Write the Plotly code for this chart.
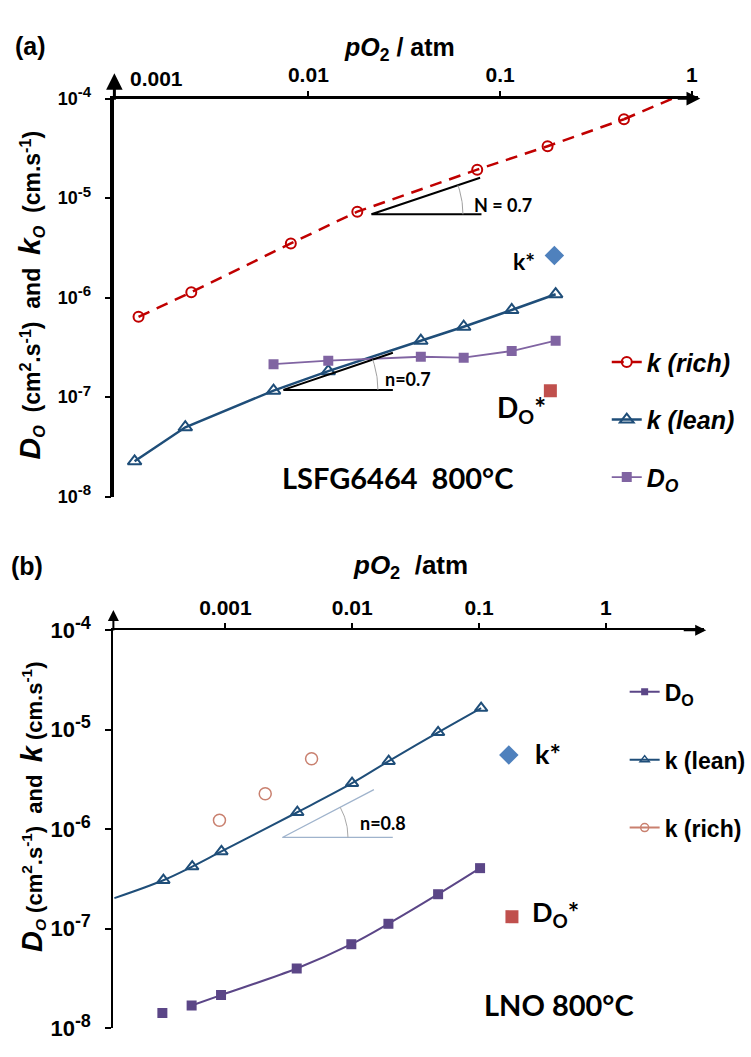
import numpy as np
import plotly.graph_objects as go

W, H = 751, 1057

# ---------------- Panel (a): LSFG6464 800°C ----------------
a_rich_po2 = [0.0013, 0.00245, 0.0081, 0.018, 0.076, 0.177, 0.443]
a_rich_k = [6.4e-7, 1.13e-6, 3.5e-6, 7.3e-6, 1.93e-5, 3.32e-5, 6.2e-5]
a_rich_fit_po2 = [0.443, 1.0]
a_rich_fit_k = [6.2e-5, 1.21e-4]
a_lean_po2 = [0.00124, 0.00228, 0.00658, 0.0127, 0.0386, 0.0646, 0.115, 0.195]
a_lean_k = [2.26e-8, 4.97e-8, 1.16e-7, 1.82e-7, 3.68e-7, 5.09e-7, 7.5e-7, 1.08e-6]
a_do_po2 = [0.00658, 0.0127, 0.0386, 0.0646, 0.115, 0.195]
a_do = [2.14e-7, 2.32e-7, 2.54e-7, 2.49e-7, 2.90e-7, 3.68e-7]
a_kstar_po2 = [0.192]
a_kstar = [2.65e-6]
a_dostar_po2 = [0.183]
a_dostar = [1.16e-7]
# slope guides (tip of hypotenuse, vertex, end of base)
a_N_tri_po2 = [0.0787, 0.02133, 0.0800]
a_N_tri_val = [1.60e-5, 6.87e-6, 6.87e-6]
a_n_tri_po2 = [0.0276, 0.00741, 0.0276]
a_n_tri_val = [2.79e-7, 1.18e-7, 1.18e-7]

# ---------------- Panel (b): LNO 800°C ----------------
b_do_po2 = [3.18e-4, 5.41e-4, 9.23e-4, 3.65e-3, 9.84e-3, 0.0193, 0.0476, 0.102]
b_do = [1.42e-8, 1.69e-8, 2.15e-8, 3.98e-8, 6.98e-8, 1.12e-7, 2.22e-7, 4.06e-7]
b_lean_po2 = [3.24e-4, 5.47e-4, 9.3e-4, 3.69e-3, 9.97e-3, 0.0194, 0.0476, 0.104]
b_lean_k = [3.07e-7, 4.21e-7, 5.98e-7, 1.48e-6, 2.9e-6, 4.83e-6, 9.4e-6, 1.65e-5]
b_lean_fit_start_po2 = [1.33e-4]
b_lean_fit_start_k = [2.03e-7]
b_rich_po2 = [8.97e-4, 2.06e-3, 4.78e-3]
b_rich_k = [1.23e-6, 2.27e-6, 5.1e-6]
b_kstar_po2 = [0.172]
b_kstar = [5.57e-6]
b_dostar_po2 = [0.182]
b_dostar = [1.32e-7]
b_n_tri_po2 = [0.01483, 0.00281, 0.0209]
b_n_tri_val = [2.50e-6, 8.26e-7, 8.26e-7]

# ticks
a_xtick_vals = [0.01, 0.1, 1]
a_xtick_text = ["0.01", "0.1", "1"]
a_first_xtick = "0.001"
b_xtick_vals = [0.001, 0.01, 0.1, 1]
b_xtick_text = ["0.001", "0.01", "0.1", "1"]
ytick_vals = [1e-8, 1e-7, 1e-6, 1e-5, 1e-4]
ytick_exp = ["-8", "-7", "-6", "-5", "-4"]

# colours
RED = "#C00000"
NAVY = "#1F4E79"
PURPLE = "#8064A2"
DPURPLE = "#5B4687"
KSTAR = "#4F81BD"
DSTAR = "#C0504D"
LRED = "#C9806F"

ARIAL = "Liberation Sans, Arial, sans-serif"
CAL = "Lato, Carlito, sans-serif"

# layout geometry (pixels)
A_X0, A_X1, A_Y0, A_Y1 = 115, 702, 83, 493
B_X0, B_X1, B_Y0, B_Y1 = 114, 708, 630.7, 1040.7
A_XR = [-3.012, 0.034]
B_XR = [-3.884, 0.777]
YR = [-8, -4]


def px(x):
    return x / W


def py(y):
    return 1 - y / H


def arc(tri_x, tri_y, r_px, ppdx, ppdy):
    lx = np.log10(tri_x)
    ly = np.log10(tri_y)
    ang = np.arctan2((ly[0] - ly[1]) * ppdy, (lx[0] - lx[1]) * ppdx)
    t = np.linspace(0, ang, 24)
    return 10 ** (lx[1] + r_px * np.cos(t) / ppdx), 10 ** (ly[1] + r_px * np.sin(t) / ppdy)


def ylabels(sup_px):
    return ["10<sup><span style='font-size:%dpx'>%s</span></sup>" % (sup_px, e) for e in ytick_exp]


fig = go.Figure()

# ---------- panel (a) traces ----------
fig.add_trace(go.Scatter(x=a_rich_fit_po2, y=a_rich_fit_k, mode="lines", xaxis="x", yaxis="y",
                         line=dict(color=RED, width=2.5, dash="12px,8px"), showlegend=False, hoverinfo="skip"))
fig.add_trace(go.Scatter(x=a_rich_po2, y=a_rich_k, mode="lines+markers", xaxis="x", yaxis="y",
                         line=dict(color=RED, width=2.5, dash="12px,8px"),
                         marker=dict(symbol="circle-open", size=10, color=RED, line=dict(width=2)),
                         name="<i>k (rich)</i>", legend="legend", legendgroup="a1"))
fig.add_trace(go.Scatter(x=a_lean_po2, y=a_lean_k, mode="lines+markers", xaxis="x", yaxis="y",
                         line=dict(color=NAVY, width=2.5),
                         marker=dict(symbol="triangle-up-open", size=12, color=NAVY, line=dict(width=2)),
                         name="<i>k (lean)</i>", legend="legend", legendgroup="a2"))
fig.add_trace(go.Scatter(x=a_do_po2, y=a_do, mode="lines+markers", xaxis="x", yaxis="y",
                         line=dict(color=PURPLE, width=1.8),
                         marker=dict(symbol="square", size=10, color=PURPLE),
                         name="<i>D</i><sub><i>O</i></sub>", legend="legend", legendgroup="a3"))
fig.add_trace(go.Scatter(x=a_kstar_po2, y=a_kstar, mode="markers", xaxis="x", yaxis="y",
                         marker=dict(symbol="diamond", size=15, color=KSTAR), showlegend=False))
fig.add_trace(go.Scatter(x=a_dostar_po2, y=a_dostar, mode="markers", xaxis="x", yaxis="y",
                         marker=dict(symbol="square", size=13, color=DSTAR), showlegend=False))

# slope guides (a)
ppdx_a = (A_X1 - A_X0) / (A_XR[1] - A_XR[0])
ppdy_a = (A_Y1 - A_Y0) / (YR[1] - YR[0])
ppdx_b = (B_X1 - B_X0) / (B_XR[1] - B_XR[0])
ppdy_b = (B_Y1 - B_Y0) / (YR[1] - YR[0])
for tx, ty, r in [(a_N_tri_po2, a_N_tri_val, 92), (a_n_tri_po2, a_n_tri_val, 95)]:
    fig.add_trace(go.Scatter(x=tx, y=ty, mode="lines", xaxis="x", yaxis="y",
                             line=dict(color="black", width=2), showlegend=False, hoverinfo="skip"))
    ax_, ay_ = arc(tx, ty, r, ppdx_a, ppdy_a)
    fig.add_trace(go.Scatter(x=ax_, y=ay_, mode="lines", xaxis="x", yaxis="y",
                             line=dict(color="#A0A0A0", width=1), showlegend=False, hoverinfo="skip"))

# ---------- panel (b) traces ----------
fig.add_trace(go.Scatter(x=b_n_tri_po2, y=b_n_tri_val, mode="lines", xaxis="x2", yaxis="y2",
                         line=dict(color="#9FB3CC", width=1.3), showlegend=False, hoverinfo="skip"))
bax, bay = arc(b_n_tri_po2, b_n_tri_val, 66, ppdx_b, ppdy_b)
fig.add_trace(go.Scatter(x=bax, y=bay, mode="lines", xaxis="x2", yaxis="y2",
                         line=dict(color="#A8A8A8", width=1), showlegend=False, hoverinfo="skip"))

fig.add_trace(go.Scatter(x=b_lean_fit_start_po2 + b_lean_po2, y=b_lean_fit_start_k + b_lean_k, mode="lines",
                         xaxis="x2", yaxis="y2", line=dict(color=NAVY, width=2, shape="spline"),
                         showlegend=False, hoverinfo="skip"))
fig.add_trace(go.Scatter(x=b_do_po2[1:], y=b_do[1:], mode="lines", xaxis="x2", yaxis="y2",
                         line=dict(color=DPURPLE, width=2, shape="spline"), showlegend=False, hoverinfo="skip"))
fig.add_trace(go.Scatter(x=b_do_po2, y=b_do, mode="markers", xaxis="x2", yaxis="y2",
                         marker=dict(symbol="square", size=10, color=DPURPLE), showlegend=False))
fig.add_trace(go.Scatter(x=b_lean_po2, y=b_lean_k, mode="markers", xaxis="x2", yaxis="y2",
                         marker=dict(symbol="triangle-up-open", size=11, color=NAVY, line=dict(width=2)),
                         showlegend=False))
fig.add_trace(go.Scatter(x=b_rich_po2, y=b_rich_k, mode="markers", xaxis="x2", yaxis="y2",
                         marker=dict(symbol="circle-open", size=12, color=LRED, line=dict(width=1.5)),
                         showlegend=False))
fig.add_trace(go.Scatter(x=b_kstar_po2, y=b_kstar, mode="markers", xaxis="x2", yaxis="y2",
                         marker=dict(symbol="diamond", size=15, color=KSTAR), showlegend=False))
fig.add_trace(go.Scatter(x=b_dostar_po2, y=b_dostar, mode="markers", xaxis="x2", yaxis="y2",
                         marker=dict(symbol="square", size=13, color=DSTAR), showlegend=False))
# legend-only entries (b)
fig.add_trace(go.Scatter(x=[None], y=[None], mode="lines+markers", xaxis="x2", yaxis="y2",
                         line=dict(color=DPURPLE, width=2), marker=dict(symbol="square", size=7, color=DPURPLE),
                         name="D<sub>O</sub>", legend="legend2", legendgroup="b1"))
fig.add_trace(go.Scatter(x=[None], y=[None], mode="lines+markers", xaxis="x2", yaxis="y2",
                         line=dict(color=NAVY, width=2),
                         marker=dict(symbol="triangle-up-open", size=8, color=NAVY, line=dict(width=1.5)),
                         name="k (lean)", legend="legend2", legendgroup="b2"))
fig.add_trace(go.Scatter(x=[None], y=[None], mode="lines+markers", xaxis="x2", yaxis="y2",
                         line=dict(color=LRED, width=2),
                         marker=dict(symbol="circle-open", size=8, color=LRED, line=dict(width=1.5)),
                         name="k (rich)", legend="legend2", legendgroup="b3"))

# ---------- axes ----------
xcommon = dict(type="log", side="top", showgrid=False, zeroline=False, showline=True, linecolor="black",
               ticks="outside", ticklen=5, tickcolor="black", tickwidth=1.5,
               tickfont=dict(family=ARIAL, size=21, color="black", weight="bold"))
ycommon = dict(type="log", range=YR, showgrid=False, zeroline=False, showline=True, linecolor="black",
               ticks="outside", ticklen=6, tickcolor="black", tickwidth=2,
               tickvals=ytick_vals, ticklabelstandoff=10)

fig.update_layout(
    width=W, height=H, autosize=False,
    margin=dict(l=0, r=0, t=0, b=0),
    paper_bgcolor="white", plot_bgcolor="white",
    xaxis=dict(xcommon, domain=[px(A_X0), px(A_X1)], range=A_XR, anchor="y", linewidth=2.5,
               tickvals=a_xtick_vals, ticktext=a_xtick_text),
    yaxis=dict(ycommon, domain=[py(A_Y1), py(A_Y0)], anchor="x", linewidth=3.5, ticktext=ylabels(15),
               tickfont=dict(family=ARIAL, size=18, color="black", weight="bold")),
    xaxis2=dict(xcommon, domain=[px(B_X0), px(B_X1)], range=B_XR, anchor="y2", linewidth=2,
                tickvals=b_xtick_vals, ticktext=b_xtick_text),
    yaxis2=dict(ycommon, domain=[py(B_Y1), py(B_Y0)], anchor="x2", linewidth=2.2, ticktext=ylabels(18),
                tickfont=dict(family=ARIAL, size=22, color="black", weight="bold")),
    legend=dict(x=px(610), y=py(331), xanchor="left", yanchor="top", bgcolor="rgba(0,0,0,0)",
                font=dict(family=ARIAL, size=25, color="black", weight="bold"),
                traceorder="grouped", tracegroupgap=22, itemwidth=30),
    legend2=dict(x=px(628), y=py(672), xanchor="left", yanchor="top", bgcolor="rgba(0,0,0,0)",
                 font=dict(family=ARIAL, size=23, color="black", weight="bold"),
                 traceorder="grouped", tracegroupgap=35, itemwidth=30),
)

ann = []


def text(x, y, t, size, family=ARIAL, bold=True, angle=0, color="black"):
    ann.append(dict(x=px(x), y=py(y), xref="paper", yref="paper", text=t, showarrow=False,
                    textangle=angle, xanchor="center", yanchor="middle",
                    font=dict(family=family, size=size, color=color, weight="bold" if bold else "normal")))


def arrow(tipx, tipy, dx, dy, width):
    ann.append(dict(x=px(tipx), y=py(tipy), xref="paper", yref="paper", text="", showarrow=True,
                    ax=dx, ay=dy, axref="pixel", ayref="pixel", arrowhead=2, arrowsize=1.1,
                    arrowwidth=width, arrowcolor="black"))


# panel labels and titles
text(31, 29, "(a)", 25)
text(402, 32, "<i>pO</i><sub>2</sub> / atm", 25)
text(157, 62, a_first_xtick, 21)
text(31, 285, "<i><span style='font-size:30px'>D</span></i><sub><i>O</i></sub>  (cm<sup>2</sup>.s<sup>-1</sup>)  and  "
     "<i><span style='font-size:30px'>k</span></i><sub><i>O</i></sub>  (cm.s<sup>-1</sup>)", 23, angle=-90)
text(506, 193, "N = 0.7", 18, family=CAL)
text(410, 372, "n=0.7", 18, family=CAL)
text(527, 250, "k*", 23, family=CAL)
text(524, 403, "D<sub>O</sub>*", 28, family=CAL)
text(400, 473, "LSFG6464  800°C", 29, family=CAL)

text(27, 565, "(b)", 25)
text(413, 565, "<i>pO</i><sub>2</sub>  /atm", 26)
text(33, 813, "<i><span style='font-size:29px'>D</span></i><sub><i>O</i></sub> (cm<sup>2</sup>.s<sup>-1</sup>)  and  "
     "<i><span style='font-size:29px'>k</span></i> (cm.s<sup>-1</sup>)", 22, angle=-90)
text(385, 829, "n=0.8", 18, family=CAL)
text(551, 758, "k*", 27, family=CAL)
text(558, 923, "D<sub>O</sub>*", 27, family=CAL)
text(562, 1016, "LNO 800°C", 29, family=CAL)

# axis arrows
arrow(A_X0, 57, 0, 28, 3)
arrow(A_X1 + 2, A_Y0, -24, 0, 2.5)
arrow(B_X0, 610, 0, 22, 2)
arrow(B_X1 + 2, B_Y0, -24, 0, 2)

fig.update_layout(annotations=ann)

fig.write_html("out.html", config={"displayModeBar": False},
               post_script="document.body.style.margin='0';document.body.style.overflow='hidden';")
